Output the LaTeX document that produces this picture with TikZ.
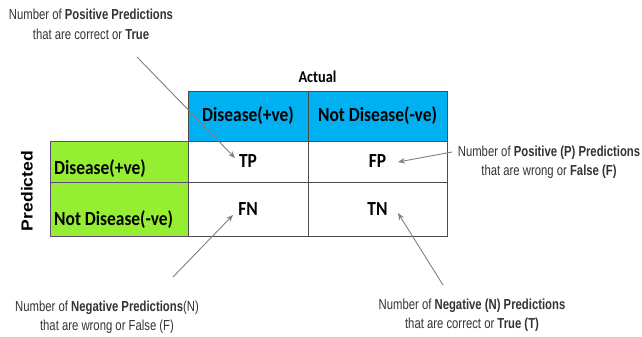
\documentclass[tikz,border=0pt]{standalone}
\usepackage{fontspec}
\setmainfont{Carlito}
\newfontfamily\cellfont[FakeStretch=0.87]{Carlito}
\newfontfamily\narrowfont[FakeStretch=0.78]{Liberation Sans}
\newfontfamily\predfont[FakeStretch=1.1]{Liberation Sans}
\usetikzlibrary{arrows.meta}
\definecolor{hdrblue}{HTML}{00B0F0}
\definecolor{rowgreen}{HTML}{96EE33}
\definecolor{rowborder}{HTML}{5E4B7E}
\definecolor{anntext}{HTML}{333333}
\tikzset{
  cell/.style={draw=black!70, line width=1pt, inner sep=0pt, outer sep=0pt,
    font=\cellfont\fontsize{20}{22}\selectfont\bfseries},
  hdrcell/.style={cell, fill=hdrblue},
  rowcell/.style={cell, draw=rowborder, fill=rowgreen},
  rowlabel/.style={anchor=west, inner sep=0pt, font=\cellfont\fontsize{20}{22}\selectfont\bfseries},
  ann/.style={align=center, text=anntext, inner sep=0pt,
    font=\narrowfont\fontsize{14.5}{19.5}\selectfont},
  arr/.style={draw=gray, line width=0.9pt, -{Stealth[length=7pt,width=5.5pt]}},
}
\begin{document}
\begin{tikzpicture}[x=1pt,y=-1pt]
\useasboundingbox (0,0) rectangle (642,337);
% header
\node[font=\cellfont\fontsize{16.5}{18}\selectfont\bfseries] (actual) at (317.5,77) {Actual};
\node[hdrcell, minimum width=120pt, minimum height=50pt] (h1) at (248,116) {Disease(+ve)};
\node[hdrcell, minimum width=139pt, minimum height=50pt] (h2) at (377.5,116) {Not Disease(-ve)};
% row headers
\node[rowcell, minimum width=138pt, minimum height=41pt] (r1) at (119,161.5) {};
\node[rowcell, minimum width=138pt, minimum height=54pt] (r2) at (119,209) {};
\node[rowlabel] (r1t) at (54,169) {Disease(+ve)};
\node[rowlabel] (r2t) at (54,220) {Not Disease(-ve)};
% data cells
\node[cell, minimum width=120pt, minimum height=41pt] (tp) at (248,161.5) {TP};
\node[cell, minimum width=139pt, minimum height=41pt] (fp) at (377.5,161.5) {FP};
\node[cell, minimum width=120pt, minimum height=54pt] (fn) at (248,209) {FN};
\node[cell, minimum width=139pt, minimum height=54pt] (tn) at (377.5,209) {TN};
% predicted
\node[rotate=90, font=\predfont\fontsize{16}{18}\selectfont\bfseries] (pred) at (27,191) {Predicted};
% annotations
\node[ann] (a1) at (91,24.5) {Number of \textbf{Positive Predictions}\\that are correct or \textbf{True}};
\node[ann] (a2) at (549,162) {Number of \textbf{Positive (P) Predictions}\\that are wrong or \textbf{False (F)}};
\node[ann] (a3) at (107,317) {Number of \textbf{Negative Predictions}(N)\\that are wrong or False (F)};
\node[ann] (a4) at (472,315) {Number of \textbf{Negative (N) Predictions}\\that are correct or \textbf{True (T)}};
% arrow ends
\coordinate (a1s) at (137,57);
\coordinate (a1e) at (235,158);
\coordinate (a2s) at (452,152);
\coordinate (a2e) at (398,162);
\coordinate (a3s) at (173,277);
\coordinate (a3e) at (233,215);
\coordinate (a4s) at (443,285);
\coordinate (a4e) at (398,213);
\draw[arr] (a1s) -- (a1e);
\draw[arr] (a2s) -- (a2e);
\draw[arr] (a3s) -- (a3e);
\draw[arr] (a4s) -- (a4e);
\end{tikzpicture}
\end{document}
